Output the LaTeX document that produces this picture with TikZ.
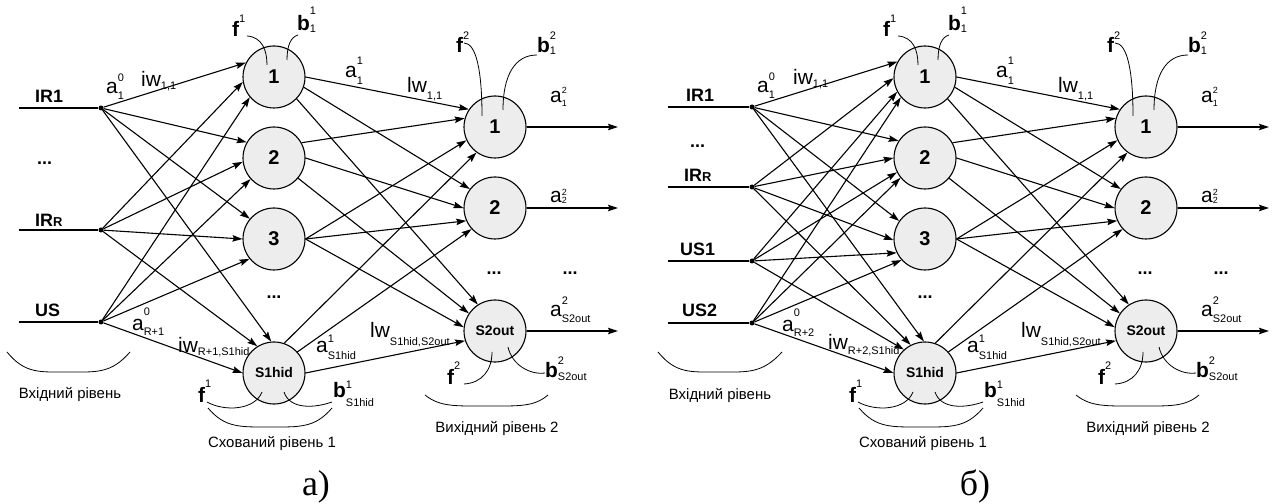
\documentclass[tikz,border=0pt]{standalone}
\usepackage{fontspec}
\setmainfont{Liberation Sans}
\newfontfamily\serifface{Liberation Serif}
\usetikzlibrary{arrows.meta}
\newcommand{\fs}[1]{\fontsize{#1}{#1}\selectfont}
\newcommand{\lbl}[5]{#1\makebox[0pt][l]{\raisebox{#4bp}{\fs{11}\mdseries #2}}\raisebox{-#5bp}{\fs{11}\mdseries #3}}
\newcommand{\lblt}[5]{#1\makebox[0pt][l]{\raisebox{#4bp}{\fs{9}\mdseries #2}}\raisebox{-#5bp}{\fs{9}\mdseries #3}}
\tikzset{
  neuron/.style={circle,draw,line width=1.1bp,fill=black!7,minimum size=62bp,inner sep=0pt,font=\fs{20}\bfseries},
  conn/.style={line width=1.1bp,-{Stealth[length=10bp,width=6.5bp,inset=1.5bp]}},
  wire/.style={line width=1.1bp},
  thinline/.style={line width=0.8bp},
  indot/.style={circle,fill,inner sep=0pt,minimum size=5bp},
  lab/.style={anchor=base west,inner sep=0pt,font=\fs{21}},
  flab/.style={anchor=base west,inner sep=0pt,font=\fs{21}\bfseries},
  inlab/.style={anchor=base west,inner sep=0pt,font=\fs{18}\bfseries},
  dotslab/.style={inner sep=0pt,font=\fs{18}\bfseries},
  captxt/.style={anchor=base,inner sep=0pt,font=\fs{15}},
  sublab/.style={anchor=base,inner sep=0pt,font=\serifface\fs{36}}
}
% shared hidden + output part
\newcommand{\hidout}[2]{%
\begin{scope}[xshift=#2bp]
  \node[neuron] (#1h1) at (274,77) {1};
  \node[neuron] (#1h2) at (274,158) {2};
  \node[neuron] (#1h3) at (274,239) {3};
  \node[neuron,font=\fs{14}\bfseries] (#1h4) at (274,373) {S1hid};
  \node[neuron] (#1o1) at (495,127) {1};
  \node[neuron] (#1o2) at (495,208) {2};
  \node[neuron,font=\fs{14}\bfseries] (#1o3) at (495,331) {S2out};
  \node[dotslab] (#1hd) at (274,297) {...};
  \node[dotslab] (#1od1) at (494,273) {...};
  \node[dotslab] (#1od2) at (570,273) {...};
  \coordinate (#1e1) at (618,127);
  \coordinate (#1e2) at (618,208);
  \coordinate (#1e3) at (618,331);
  \draw[conn] (#1o1) -- (#1e1);
  \draw[conn] (#1o2) -- (#1e2);
  \draw[conn] (#1o3) -- (#1e3);
  \draw[conn] (#1h1.0) -- (#1o1.146);
  \draw[conn] (#1h1.-19) -- (#1o2.143);
  \draw[conn] (#1h1.-44) -- (#1o3.123);
  \draw[conn] (#1h2.29) -- (#1o1.164);
  \draw[conn] (#1h2.0) -- (#1o2.180);
  \draw[conn] (#1h2.-40) -- (#1o3.146);
  \draw[conn] (#1h3.0) -- (#1o1.205);
  \draw[conn] (#1h3.0) -- (#1o2.204);
  \draw[conn] (#1h3.0) -- (#1o3.173);
  \draw[conn] (#1h4.71) -- (#1o1.234);
  \draw[conn] (#1h4.42) -- (#1o2.222);
  \draw[conn] (#1h4.0) -- (#1o3.198);
  % transfer functions and biases
  \draw[thinline] (247,36) .. controls (262,37) and (267,50) .. (267,65);
  \draw[thinline] (287,60) .. controls (287,45) and (291,37) .. (298,35);
  \draw[thinline] (464,43) .. controls (476,43) and (482,70) .. (482,116);
  \draw[thinline] (503,110) .. controls (503,75) and (515,55) .. (537,55);
  \draw[thinline] (207,402) .. controls (225,412) and (255,410) .. (262,392);
  \draw[thinline] (284,392) .. controls (290,410) and (315,408) .. (332,402);
  \draw[thinline] (464,384) .. controls (482,383) and (492,370) .. (492,352);
  \draw[thinline] (508,347) .. controls (512,365) and (530,375) .. (545,373);
  \node[flab] (#1f1) at (232,37) {\lbl{f}{1}{}{14}{0}};
  \node[flab] (#1b1) at (297,31) {\lbl{b}{1}{1}{16}{2}};
  \node[flab] (#1f2) at (456,53) {\lbl{f}{2}{}{13}{0}};
  \node[flab] (#1b2) at (537,53) {\lbl{b}{2}{1}{13}{2}};
  \node[flab] (#1f3) at (198,402) {\lbl{f}{1}{}{15}{0}};
  \node[flab] (#1b3) at (333,397) {\lbl{b}{1}{S1hid}{9}{9}};
  \node[flab] (#1f4) at (447,385) {\lbl{f}{2}{}{15}{0}};
  \node[flab] (#1b4) at (545,378) {\lbl{b}{2}{S2out}{13}{3}};
  % weights and outputs
  \node[lab] (#1l1) at (345,78) {\lbl{a}{1}{1}{13}{7}};
  \node[lab] (#1l2) at (407,93) {\lbl{lw}{}{1,1}{0}{7}};
  \node[lab] (#1l3) at (550,103) {\lblt{a}{2}{1}{9}{4}};
  \node[lab] (#1l4) at (550,203) {\lblt{a}{2}{2}{7}{1}};
  \node[lab] (#1l5) at (550,317) {\lbl{a}{2}{S2out}{12}{6}};
  \node[lab] (#1l6) at (316,353) {\lbl{a}{1}{S1hid}{10}{7}};
  \node[lab] (#1l7) at (370,338) {\lbl{lw}{}{S1hid,S2out}{0}{8}};
  % braces and captions
  \draw[thinline] (208,408) .. controls (225,428) and (240,427) .. (270,427) .. controls (300,427) and (315,428) .. (332,408);
  \draw[thinline] (425,395) .. controls (440,407) and (455,406) .. (487,406) .. controls (519,406) and (534,407) .. (548,395);
  \node[captxt] (#1c2) at (272,447) {Схований рівень 1};
  \node[captxt] (#1c3) at (497,432) {Вихідний рівень 2};
\end{scope}}
\begin{document}
\begin{tikzpicture}[x=1bp,y=-1bp]
\useasboundingbox (0,0) rectangle (1272,504);
% ================= left (a)
\hidout{L}{0}
\node[indot] (Li1) at (101,108) {};
\node[indot] (Li2) at (101,230) {};
\node[indot] (Li3) at (101,322) {};
\coordinate (Ls1) at (19,108);
\coordinate (Ls2) at (19,230);
\coordinate (Ls3) at (19,322);
\draw[wire] (Ls1) -- (Li1);
\draw[wire] (Ls2) -- (Li2);
\draw[wire] (Ls3) -- (Li3);
\node[inlab] (Ln1) at (35,103) {IR1};
\node[inlab] (Ln2) at (37,165) {...};
\node[inlab] (Ln3) at (35,227) {IR{\fs{13}R}};
\node[inlab] (Ln4) at (35,317) {US};
\draw[conn] (Li1) -- (Lh1.153);
\draw[conn] (Li1) -- (Lh2.150);
\draw[conn] (Li1) -- (Lh3.140);
\draw[conn] (Li1) -- (Lh4.95);
\draw[conn] (Li2) -- (Lh1.189);
\draw[conn] (Li2) -- (Lh2.187);
\draw[conn] (Li2) -- (Lh3.180);
\draw[conn] (Li2) -- (Lh4.122);
\draw[conn] (Li3) -- (Lh1.220);
\draw[conn] (Li3) -- (Lh2.222);
\draw[conn] (Li3) -- (Lh3.219);
\draw[conn] (Li3) -- (Lh4.180);
\node[lab] (Lw1) at (106,94) {\lbl{a}{0}{1}{12}{6}};
\node[lab] (Lw2) at (141,87) {\lbl{iw}{}{1,1}{0}{3}};
\node[lab] (Lw3) at (132,331) {\lbl{a}{0}{R+1}{15}{5}};
\node[lab] (Lw4) at (178,353) {\lbl{iw}{}{R+1,S1hid}{0}{3}};
\draw[thinline] (7,352) .. controls (25,374) and (40,372) .. (68,372) .. controls (96,372) and (111,374) .. (130,352);
\node[captxt] (Lc1) at (70,398) {Вхідний рівень};
\node[sublab] (La) at (316,495) {а)};
% ================= right (b)
\hidout{R}{651}
\node[indot] (Ri1) at (752,107) {};
\node[indot] (Ri2) at (752,187) {};
\node[indot] (Ri3) at (752,261) {};
\node[indot] (Ri4) at (752,323) {};
\coordinate (Rs1) at (668,107);
\coordinate (Rs2) at (668,187);
\coordinate (Rs3) at (668,261);
\coordinate (Rs4) at (668,323);
\draw[wire] (Rs1) -- (Ri1);
\draw[wire] (Rs2) -- (Ri2);
\draw[wire] (Rs3) -- (Ri3);
\draw[wire] (Rs4) -- (Ri4);
\node[inlab] (Rn1) at (686,102) {IR1};
\node[inlab] (Rn2) at (690,148) {...};
\node[inlab] (Rn3) at (684,182) {IR{\fs{13}R}};
\node[inlab] (Rn4) at (680,256) {US1};
\node[inlab] (Rn5) at (682,317) {US2};
\draw[conn] (Ri1) -- (Rh1.151);
\draw[conn] (Ri1) -- (Rh2.147);
\draw[conn] (Ri1) -- (Rh3.145);
\draw[conn] (Ri1) -- (Rh4.92);
\draw[conn] (Ri2) -- (Rh1.182);
\draw[conn] (Ri2) -- (Rh2.180);
\draw[conn] (Ri2) -- (Rh3.182);
\draw[conn] (Ri2) -- (Rh4.117);
\draw[conn] (Ri3) -- (Rh1.208);
\draw[conn] (Ri3) -- (Rh2.207);
\draw[conn] (Ri3) -- (Rh3.206);
\draw[conn] (Ri3) -- (Rh4.132);
\draw[conn] (Ri4) -- (Rh1.220);
\draw[conn] (Ri4) -- (Rh2.219);
\draw[conn] (Ri4) -- (Rh3.222);
\draw[conn] (Ri4) -- (Rh4.180);
\node[lab] (Rw1) at (757,93) {\lbl{a}{0}{1}{12}{6}};
\node[lab] (Rw2) at (793,85) {\lbl{iw}{}{1,1}{0}{3}};
\node[lab] (Rw3) at (782,332) {\lbl{a}{0}{R+2}{15}{5}};
\node[lab] (Rw4) at (828,350) {\lbl{iw}{}{R+2,S1hid}{0}{5}};
\draw[thinline] (658,352) .. controls (676,374) and (691,372) .. (719,372) .. controls (747,372) and (762,374) .. (782,352);
\node[captxt] (Rc1) at (720,399) {Вхідний рівень};
\node[sublab] (Rb) at (975,495) {б)};
\end{tikzpicture}
\end{document}
